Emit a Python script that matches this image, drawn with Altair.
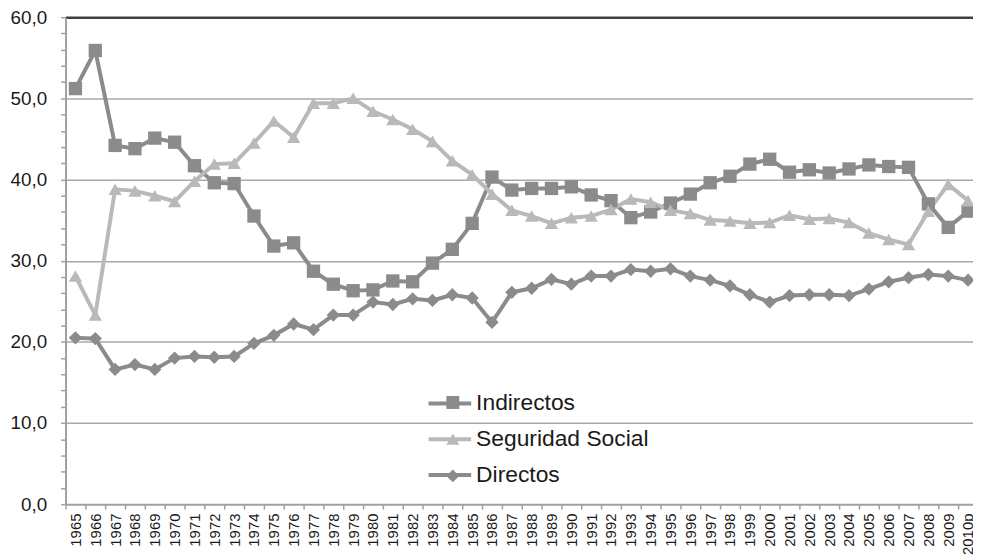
import altair as alt
import pandas as pd

years = ["1965", "1966", "1967", "1968", "1969", "1970", "1971", "1972", "1973", "1974",
         "1975", "1976", "1977", "1978", "1979", "1980", "1981", "1982", "1983", "1984",
         "1985", "1986", "1987", "1988", "1989", "1990", "1991", "1992", "1993", "1994",
         "1995", "1996", "1997", "1998", "1999", "2000", "2001", "2002", "2003", "2004",
         "2005", "2006", "2007", "2008", "2009", "2010p"]

indirectos = [51.2, 55.9, 44.2, 43.8, 45.1, 44.6, 41.7, 39.6, 39.5, 35.5,
              31.8, 32.2, 28.7, 27.1, 26.3, 26.4, 27.5, 27.4, 29.7, 31.4,
              34.6, 40.3, 38.7, 38.9, 38.9, 39.1, 38.1, 37.4, 35.3, 36.0,
              37.1, 38.2, 39.6, 40.4, 41.9, 42.5, 40.9, 41.2, 40.8, 41.3,
              41.8, 41.6, 41.5, 37.0, 34.1, 36.1]

seguridad = [28.1, 23.3, 38.8, 38.6, 38.0, 37.3, 39.8, 41.9, 42.0, 44.5,
             47.2, 45.2, 49.4, 49.4, 50.0, 48.4, 47.4, 46.2, 44.7, 42.3,
             40.6, 38.2, 36.2, 35.5, 34.6, 35.3, 35.5, 36.3, 37.6, 37.2,
             36.2, 35.8, 35.0, 34.9, 34.6, 34.7, 35.6, 35.1, 35.2, 34.7,
             33.4, 32.6, 32.0, 36.1, 39.4, 37.4]

directos = [20.5, 20.4, 16.6, 17.2, 16.6, 18.0, 18.2, 18.1, 18.2, 19.8,
            20.8, 22.2, 21.5, 23.3, 23.3, 24.9, 24.6, 25.3, 25.1, 25.8,
            25.4, 22.4, 26.1, 26.6, 27.7, 27.1, 28.1, 28.1, 28.9, 28.7,
            29.0, 28.1, 27.6, 26.9, 25.8, 24.9, 25.7, 25.8, 25.8, 25.7,
            26.5, 27.4, 27.9, 28.3, 28.1, 27.6]

series = ["Indirectos", "Seguridad Social", "Directos"]
colors = ["#8b8b8d", "#b9b9b9", "#8b8b8d"]
shapes = ["square", "triangle-up", "diamond"]
y_ticks = list(range(0, 61, 2))

rows = []
for orden, (name, vals) in enumerate(zip(series, [indirectos, seguridad, directos])):
    for a, v in zip(years, vals):
        rows.append({"anio": a, "serie": name, "valor": v, "orden": orden})
df = pd.DataFrame(rows)

FONT = "Liberation Sans"
AXIS_GRAY = "#a0a0a0"

x_enc = alt.X(
    "anio:N",
    bandPosition=0.5,
    scale=alt.Scale(type="band", domain=years, range=[0, 920], paddingInner=0, paddingOuter=0),
    axis=alt.Axis(
        title=None, labelAngle=270, labelFontSize=15, labelFont=FONT, labelColor="#1a1a1a",
        tickBand="extent", tickSize=5, tickColor=AXIS_GRAY, tickWidth=1.5,
        domainColor=AXIS_GRAY, domainWidth=2, labelPadding=4, grid=False,
        labelOverlap=False,
    ),
)

y_enc = alt.Y(
    "valor:Q",
    scale=alt.Scale(domain=[0, 60], nice=False, zero=True),
    axis=alt.Axis(
        title=None, values=y_ticks,
        labelExpr="datum.value % 10 === 0 ? replace(format(datum.value, '.1f'), '.', ',') : ''",
        labelFontSize=19, labelFont=FONT, labelColor="#1a1a1a", labelPadding=14,
        tickSize=5, tickColor=AXIS_GRAY, tickWidth=1.5,
        domainColor=AXIS_GRAY, domainWidth=2,
        grid=True,
        gridOpacity={"condition": {"test": "datum.value % 10 === 0 && datum.value > 0", "value": 1}, "value": 0},
        gridColor={"condition": {"test": "datum.value === 60", "value": "#404040"}, "value": "#a8a8a8"},
        gridWidth={"condition": {"test": "datum.value === 60", "value": 2.5}, "value": 1.5},
    ),
)

legend_common = dict(
    orient="none", title=None, labelFontSize=23, labelFont=FONT, labelColor="#1a1a1a",
    padding=0, labelLimit=400,
)

lines = alt.Chart(df).mark_line(strokeWidth=4).encode(
    x=x_enc,
    y=y_enc,
    color=alt.Color(
        "serie:N",
        scale=alt.Scale(domain=series, range=colors),
        legend=alt.Legend(
            legendX=364, legendY=366, symbolType="stroke", symbolSize=1849,
            symbolStrokeWidth=4, labelOffset=3, rowPadding=-7, **legend_common,
        ),
    ),
    order=alt.Order("orden:Q"),
)

pt_sort = alt.EncodingSortField(field="orden", op="min")
pt_legend = alt.Legend(
    legendX=379, legendY=377, symbolSize=170, labelOffset=3, labelOpacity=0,
    symbolStrokeWidth=0, rowPadding=13, **legend_common,
)

points = alt.Chart(df).mark_point(filled=True, size=180, opacity=1).encode(
    x=x_enc,
    y=y_enc,
    fill=alt.Fill("serie:N", sort=pt_sort, scale=alt.Scale(range=colors), legend=pt_legend),
    shape=alt.Shape("serie:N", sort=pt_sort, scale=alt.Scale(range=shapes), legend=pt_legend),
)

chart = alt.layer(lines, points).properties(
    width=915,
    height=491,
    autosize=alt.AutoSizeParams(type="none"),
    padding={"left": 58, "top": 7, "right": 0, "bottom": 50},
    background="white",
).configure_view(strokeWidth=0)

chart.save("out.html", embed_options={"renderer": "svg", "actions": False})
